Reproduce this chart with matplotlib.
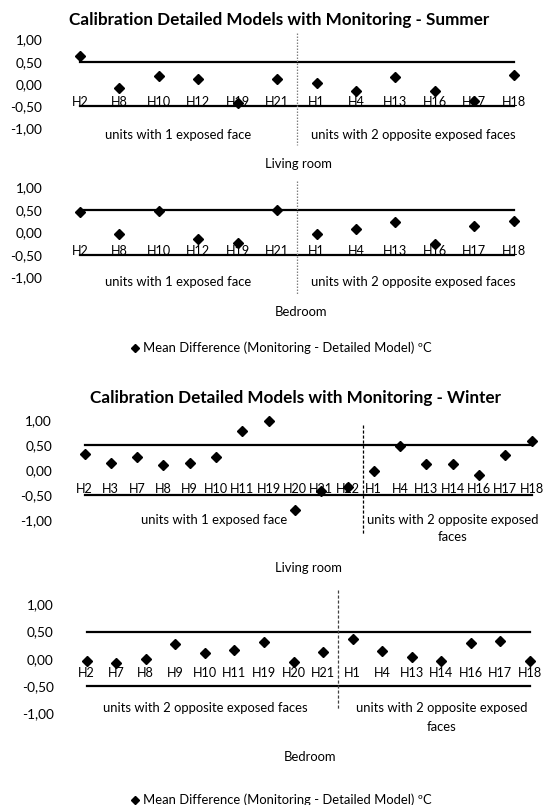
import matplotlib.pyplot as plt
import matplotlib.transforms as mtransforms
from matplotlib.lines import Line2D

plt.rcParams['font.family'] = ['Lato', 'DejaVu Sans']

W, H = 543, 805

# data (ºC)
summer_cats = ['H2', 'H8', 'H10', 'H12', 'H19', 'H21', 'H1', 'H4', 'H13', 'H16', 'H17', 'H18']
summer_living = [0.63, -0.08, 0.18, 0.12, -0.42, 0.11, 0.02, -0.15, 0.15, -0.15, -0.38, 0.20]
summer_bedroom = [0.46, -0.04, 0.48, -0.15, -0.24, 0.50, -0.03, 0.07, 0.23, -0.26, 0.14, 0.26]

winter_living_cats = ['H2', 'H3', 'H7', 'H8', 'H9', 'H10', 'H11', 'H19', 'H20', 'H21', 'H22',
                      'H1', 'H4', 'H13', 'H14', 'H16', 'H17', 'H18']
winter_living = [0.32, 0.14, 0.25, 0.09, 0.13, 0.25, 0.78, 0.97, -0.80, -0.43, -0.35,
                 -0.03, 0.47, 0.12, 0.12, -0.10, 0.30, 0.58]

winter_bedroom_cats = ['H2', 'H7', 'H8', 'H9', 'H10', 'H11', 'H19', 'H20', 'H21',
                       'H1', 'H4', 'H13', 'H14', 'H16', 'H17', 'H18']
winter_bedroom = [-0.04, -0.08, 0.00, 0.27, 0.10, 0.17, 0.30, -0.06, 0.12,
                  0.36, 0.14, 0.03, -0.04, 0.29, 0.32, -0.04]

limit_hi, limit_lo = 0.5, -0.5
yticks = [1.0, 0.5, 0.0, -0.5, -1.0]
legend_label = 'Mean Difference (Monitoring - Detailed Model) ºC'

fig = plt.figure(figsize=(W / 100, H / 100), dpi=100)


def fx(px):
    return px / W


def fy(py):
    return 1 - py / H


def panel(x_first, spacing, top, bottom, cats, vals, tick_pad, xpad=9):
    n = len(cats)
    left = x_first - spacing / 2
    ax = fig.add_axes([fx(left), fy(bottom), n * spacing / W, (bottom - top) / H])
    ax.set_xlim(-0.5, n - 0.5)
    ax.set_ylim(-1, 1)
    x = list(range(n))
    ax.plot([0, n - 1], [limit_hi, limit_hi], color='black', lw=1.6, zorder=2)
    ax.plot([0, n - 1], [limit_lo, limit_lo], color='black', lw=1.6, zorder=2)
    ax.plot(x, vals, ls='none', marker='D', ms=5.6, color='black', zorder=3, clip_on=False)
    for s in ax.spines.values():
        s.set_visible(False)
    ax.spines['bottom'].set_position(('data', 0))
    ax.set_xticks(x)
    ax.set_xticklabels(cats)
    ax.set_yticks(yticks)
    ax.set_yticklabels([f'{v:.2f}'.replace('.', ',') for v in yticks])
    ax.tick_params(axis='x', length=0, pad=xpad, labelsize=9.1, colors='black')
    ax.tick_params(axis='y', length=0, pad=tick_pad, labelsize=9.8, colors='black')
    ax.patch.set_alpha(0)
    return ax


def divider(ax, xpos, y0, y1, style, color):
    tr = mtransforms.blended_transform_factory(ax.transData, fig.transFigure)
    fig.add_artist(Line2D([xpos, xpos], [fy(y0), fy(y1)], transform=tr,
                          color=color, lw=0.9, ls=style))


def label(px, py, s, **kw):
    fig.text(fx(px), fy(py), s, ha='center', va='center', fontsize=kw.pop('size', 9.4), **kw)


def legend(py):
    h = Line2D([], [], ls='none', marker='D', ms=4.4, color='black')
    fig.legend([h], [legend_label], loc='center', bbox_to_anchor=(fx(281), fy(py)),
               frameon=False, fontsize=9.4, handlelength=0.7, handletextpad=0.25)


# summer
fig.text(fx(279), fy(20), 'Calibration Detailed Models with Monitoring - Summer',
         ha='center', va='center', fontsize=12.3, fontweight='bold')
ax1 = panel(80, 39.43, 39.4, 128.6, summer_cats, summer_living, 13)
divider(ax1, 5.5, 33, 145, (0, (1.2, 1.2)), '#7f7f7f')
label(178, 135, 'units with 1 exposed face')
label(413, 135, 'units with 2 opposite exposed faces')
label(298, 164, 'Living room')

ax2 = panel(80, 39.43, 187.5, 277.5, summer_cats, summer_bedroom, 13)
divider(ax2, 5.5, 181, 295, (0, (1.2, 1.2)), '#7f7f7f')
label(178, 282, 'units with 1 exposed face')
label(413, 282, 'units with 2 opposite exposed faces')
label(301, 312, 'Bedroom')
legend(348)

# winter
fig.text(fx(296), fy(398), 'Calibration Detailed Models with Monitoring - Winter',
         ha='center', va='center', fontsize=12.3, fontweight='bold')
ax3 = panel(84.5, 26.3, 420, 520, winter_living_cats, winter_living, 14)
divider(ax3, 10.6, 425, 535, (0, (2.5, 1.5)), 'black')
label(214, 520, 'units with 1 exposed face')
label(453, 520, 'units with 2 opposite exposed')
label(453, 537, 'faces')
label(308, 568, 'Living room')

ax4 = panel(86.6, 29.56, 604.5, 713, winter_bedroom_cats, winter_bedroom, 13, xpad=6)
divider(ax4, 8.5, 590, 710, (0, (2.5, 1.5)), '#404040')
label(205, 708, 'units with 2 opposite exposed faces')
label(442, 708, 'units with 2 opposite exposed')
label(442, 727, 'faces')
label(310, 757, 'Bedroom')
legend(800)

fig.savefig('out.png', dpi=100, facecolor='white')
